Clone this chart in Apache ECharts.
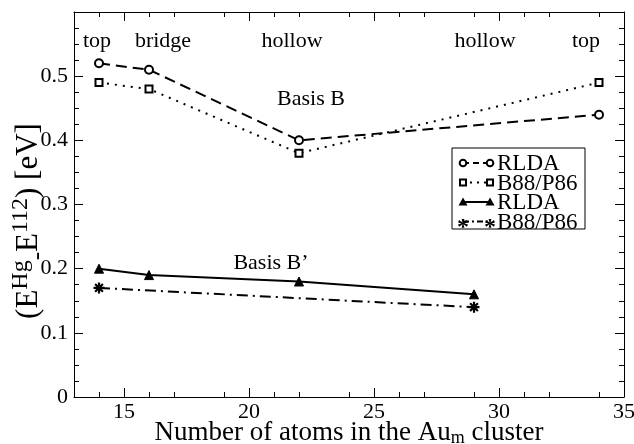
<!DOCTYPE html>
<html><head><meta charset="utf-8">
<script src="https://cdn.jsdelivr.net/npm/echarts@6/dist/echarts.min.js"></script>
<style>html,body{margin:0;padding:0;background:#fff}#c{width:634px;height:444px}</style>
</head><body><div id="c"></div>
<script>
// ---- data ----
const rldaB_x = [14, 16, 22, 34];
const rldaB_y = [0.52, 0.51, 0.40, 0.44];
const b88B_x = [14, 16, 22, 34];
const b88B_y = [0.49, 0.48, 0.38, 0.49];
const rldaBp_x = [14, 16, 22, 29];
const rldaBp_y = [0.20, 0.19, 0.18, 0.16];
const b88Bp_x = [14, 29];
const b88Bp_y = [0.17, 0.14];
const siteLabels = ["top", "bridge", "hollow", "hollow", "top"];
const legendNames = ["RLDA", "B88/P86", "RLDA", "B88/P86"];
const xTicks = [15, 20, 25, 30, 35];

const FONT = '"Liberation Serif","DejaVu Serif",serif';
const star = 'path://M-5 -1L5 -1L5 1L-5 1Z M-1 -5L1 -5L1 5L-1 5Z M-2.83 -4.24L4.24 2.83L2.83 4.24L-4.24 -2.83Z M-4.24 2.83L2.83 -4.24L4.24 -2.83L-2.83 4.24Z';

const zip = (xs, ys) => xs.map((x, i) => [x, ys[i]]);
const chart = echarts.init(document.getElementById('c'), null, {renderer: 'canvas'});

const axisCommon = {
  type: 'value',
  axisLine: {show: true, onZero: false, lineStyle: {color: '#000', width: 1}},
  axisTick: {show: true, inside: true, length: 9, lineStyle: {color: '#000', width: 1}},
  minorTick: {show: true, length: 5, lineStyle: {color: '#000', width: 1}},
  splitLine: {show: false},
};

const series = [
  {name: 'rldaB', type: 'line', data: zip(rldaB_x, rldaB_y), symbol: 'circle', symbolSize: 8,
   lineStyle: {color: '#000', width: 2, type: [11, 6]}, itemStyle: {color: '#fff', borderColor: '#000', borderWidth: 2}},
  {name: 'b88B', type: 'line', data: zip(b88B_x, b88B_y), symbol: 'rect', symbolSize: 7,
   lineStyle: {color: '#000', width: 2, type: [2, 6]}, itemStyle: {color: '#fff', borderColor: '#000', borderWidth: 2}},
  {name: 'rldaBp', type: 'line', data: zip(rldaBp_x, rldaBp_y), symbol: 'triangle', symbolSize: 9,
   lineStyle: {color: '#000', width: 2, type: 'solid'}, itemStyle: {color: '#000', borderColor: '#000', borderWidth: 1}},
  {name: 'b88Bp', type: 'line', data: zip(b88Bp_x, b88Bp_y), symbol: star, symbolSize: 11,
   lineStyle: {color: '#000', width: 2, type: [11, 5, 2, 5]}, itemStyle: {color: '#000', borderWidth: 0}},
].map(s => Object.assign({xAxisIndex: 0, yAxisIndex: 0, animation: false, showAllSymbol: true, z: 3}, s));

// legend + annotations graphic
const lgX = 452, lgY = 148, rowH = 19.5;
const g = [{type: 'rect', shape: {x: lgX, y: lgY, width: 133, height: 81}, style: {fill: '#fff', stroke: '#000', lineWidth: 1}, z: 10}];
const dashes = [[6, 4], [2, 5], null, [6, 3, 2, 3]];
legendNames.forEach((n, i) => {
  const y = lgY + 15 + i * rowH;
  const x1 = lgX + 11, x2 = lgX + 38;
  g.push({type: 'line', shape: {x1, y1: y, x2, y2: y}, style: {stroke: '#000', lineWidth: 2, lineDash: dashes[i]}, z: 11});
  [x1, x2].forEach(x => {
    if (i === 0) g.push({type: 'circle', shape: {cx: x, cy: y, r: 3.3}, style: {fill: '#fff', stroke: '#000', lineWidth: 2}, z: 12});
    if (i === 1) g.push({type: 'rect', shape: {x: x - 3, y: y - 3, width: 6, height: 6}, style: {fill: '#fff', stroke: '#000', lineWidth: 2}, z: 12});
    if (i === 2) g.push({type: 'polygon', shape: {points: [[x, y - 4.5], [x + 4.5, y + 3.5], [x - 4.5, y + 3.5]]}, style: {fill: '#000'}, z: 12});
    if (i === 3) g.push({type: 'text', x: x, y: y + 6, style: {text: '*', fill: '#000', font: 'bold 24px ' + FONT, align: 'center', verticalAlign: 'middle'}, z: 12});
  });
  g.push({type: 'text', x: lgX + 45, y: y + 1, style: {text: n, fill: '#000', font: '23px ' + FONT, verticalAlign: 'middle'}, z: 12});
});
const sitePos = [97, 163, 292, 485, 586];
siteLabels.forEach((t, i) => g.push({type: 'text', x: sitePos[i], y: 41, style: {text: t, fill: '#000', font: '22px ' + FONT, align: 'center', verticalAlign: 'middle'}}));
g.push({type: 'text', x: 311, y: 99, style: {text: 'Basis B', fill: '#000', font: '22px ' + FONT, align: 'center', verticalAlign: 'middle'}});
g.push({type: 'text', x: 271, y: 263, style: {text: 'Basis B\u2019', fill: '#000', font: '22px ' + FONT, align: 'center', verticalAlign: 'middle'}});
// y-axis title (rotated, with super/subscripts)
g.push({type: 'text', x: 29, y: 221, rotation: Math.PI / 2, style: {
  text: '(E{sup|Hg}{sub|-}E{sup|112}) [eV]', fill: '#000', font: '31px ' + FONT, align: 'center', verticalAlign: 'middle',
  rich: {
    sup: {fontSize: 24, fontFamily: FONT, verticalAlign: 'top', padding: [0, 0, 17, 0]},
    sub: {fontSize: 25, fontFamily: FONT, verticalAlign: 'bottom', padding: [14, 0, 0, 0]}
  }}});

chart.setOption({
  animation: false,
  backgroundColor: '#fff',
  grid: {left: 74, right: 10, top: 12, bottom: 47, containLabel: false, outerBoundsMode: 'none'},
  xAxis: [
    Object.assign({}, axisCommon, {position: 'bottom', min: 13, max: 35, interval: 5, minorTick: Object.assign({}, axisCommon.minorTick, {splitNumber: 5}),
      axisLabel: {show: true, color: '#000', fontFamily: FONT, fontSize: 22, margin: 4, customValues: xTicks},
      axisTick: Object.assign({}, axisCommon.axisTick, {customValues: xTicks}),
      name: 'Number of atoms in the Au{sub|m} cluster', nameLocation: 'middle', nameGap: 22, nameMoveOverlap: false,
      nameTextStyle: {color: '#000', fontFamily: FONT, fontSize: 27, rich: {sub: {fontSize: 18, fontFamily: FONT, verticalAlign: 'bottom', padding: [10, 0, 0, 0]}}}}),
    Object.assign({}, axisCommon, {position: 'top', min: 13, max: 35, interval: 5, minorTick: Object.assign({}, axisCommon.minorTick, {splitNumber: 5}),
      axisLabel: {show: false},
      axisTick: Object.assign({}, axisCommon.axisTick, {customValues: xTicks})})
  ],
  yAxis: [
    Object.assign({}, axisCommon, {position: 'left', min: 0, max: 0.6, interval: 0.1, minorTick: Object.assign({}, axisCommon.minorTick, {splitNumber: 4}),
      axisLabel: {show: true, color: '#000', fontFamily: FONT, fontSize: 22, margin: 6, formatter: v => (v === 0.6 ? '' : String(Math.round(v * 10) / 10))}}),
    Object.assign({}, axisCommon, {position: 'right', min: 0, max: 0.6, interval: 0.1, minorTick: Object.assign({}, axisCommon.minorTick, {splitNumber: 4}),
      axisLabel: {show: false}})
  ],
  series: series,
  graphic: g
});
</script></body></html>
